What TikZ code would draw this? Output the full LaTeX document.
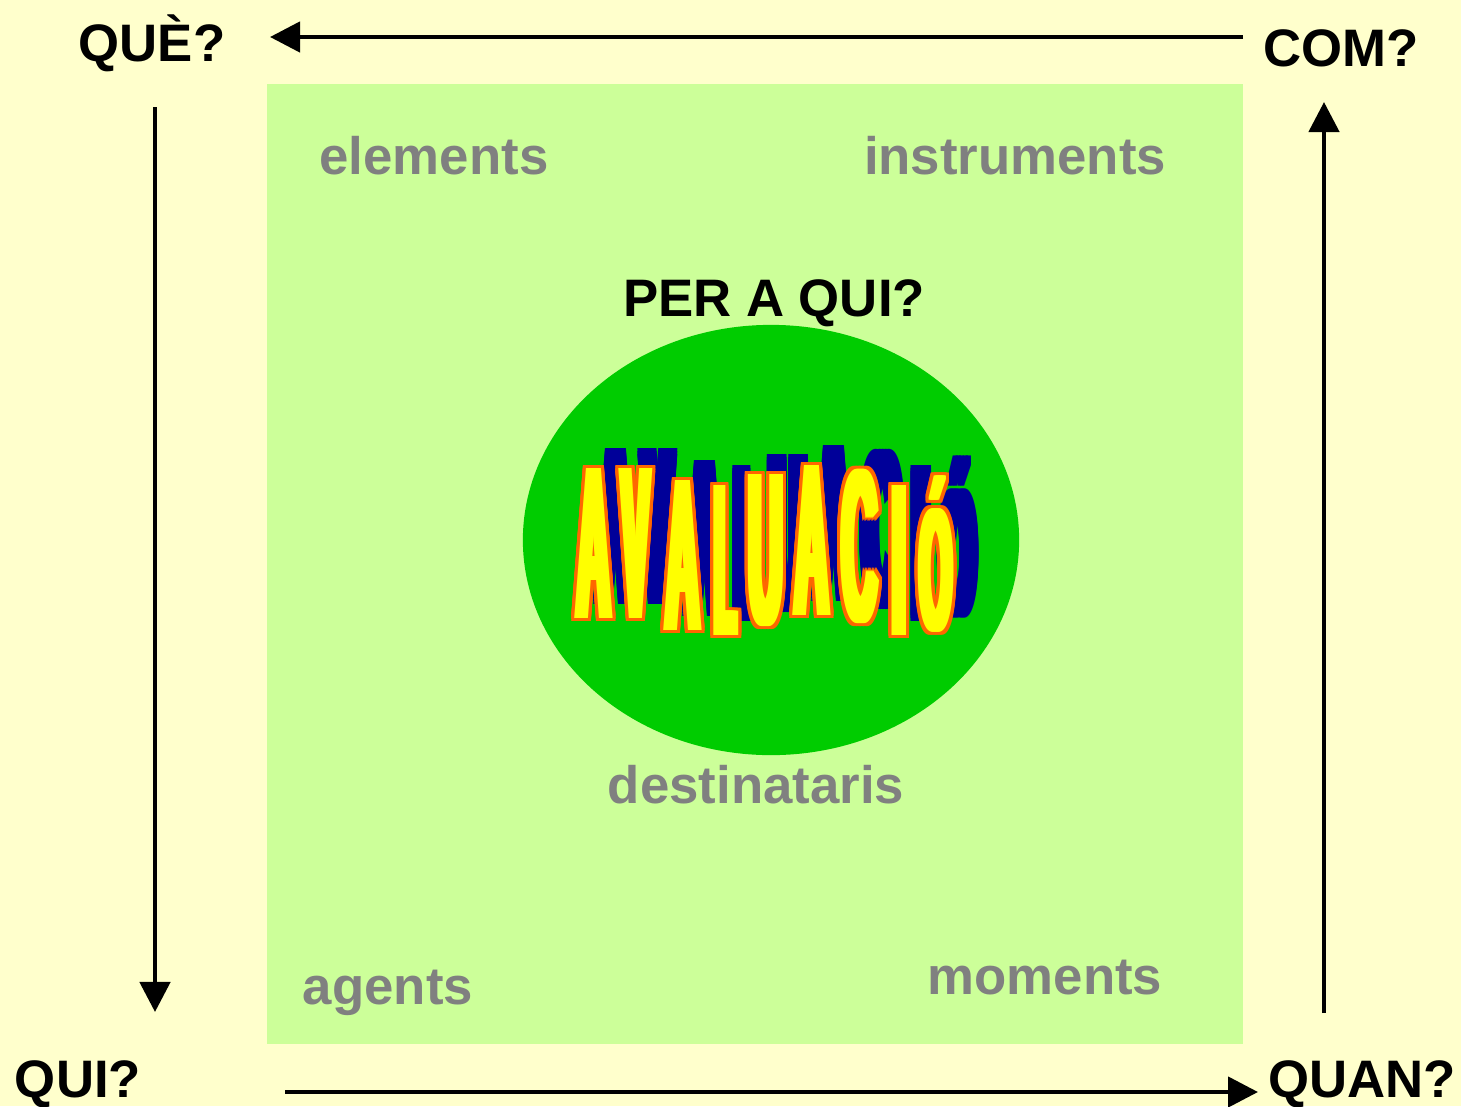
\documentclass[tikz,border=0pt]{standalone}
\usepackage{fontspec}
\setmainfont{Liberation Sans}
\usetikzlibrary{positioning,arrows.meta,shapes.geometric}
\definecolor{paper}{RGB}{255,255,204}
\definecolor{field}{RGB}{204,255,153}
\definecolor{blob}{RGB}{0,204,0}
\definecolor{labelgray}{RGB}{128,128,128}
\definecolor{artyellow}{RGB}{255,255,0}
\definecolor{artorange}{RGB}{255,102,0}
\definecolor{artblue}{RGB}{0,0,153}

% letters of the word art: x / baseline / xscale / yscale / letter
\def\artword{594/618/0.215/1/A, 636/618/0.19/1/V, 683/630/0.215/1/A,
  726/635/0.16/1/L, 766/624/0.215/1/U, 812/615/0.215/1/A,
  860/621/0.225/1/C, 899/635/0.24/1/I, 936/630/0.19/0.8/Ó}

\begin{document}
\begin{tikzpicture}[x=0.01cm,y=-0.01cm,
  q/.style={font=\fontsize{15}{15}\selectfont\bfseries,anchor=base,inner sep=0pt},
  g/.style={q,text=labelgray},
  arr/.style={-{Triangle[length=3mm,width=3mm]},line width=1.3pt},
  wa/.style={font=\fontsize{62}{62}\selectfont\bfseries,anchor=base,inner sep=0pt}]
  \fill[paper] (0,0) rectangle (1461,1106);
  \useasboundingbox (0,0) rectangle (1461,1106);
  \fill[field] (267,84) rectangle (1243,1044);
  \node[ellipse,fill=blob,minimum width=4.96cm,minimum height=4.30cm,inner sep=0pt] (oval) at (771,540) {};

  % word art: shadow, outline, fill
  \foreach \cx/\cy/\sx/\sy/\ch in \artword
    \foreach \dx in {-6.5,-3.25,0,3.25,6.5}
      \foreach \dy in {-3,0,3}
        \node[wa,text=artblue] at (\cx+22+\dx,\cy-17+\dy) {\scalebox{\sx}[\sy]{\ch}};
  \foreach \cx/\cy/\sx/\sy/\ch in \artword
    \foreach \dx in {-6.5,-5,-3.5,-2,-0.5,0.5,2,3.5,5,6.5}
      \foreach \dy in {-3,-1.5,0,1.5,3}
        \node[wa,text=artorange] at (\cx+\dx,\cy+\dy) {\scalebox{\sx}[\sy]{\ch}};
  \foreach \cx/\cy/\sx/\sy/\ch in \artword
    \foreach \dx in {-3.5,-2.5,-1.5,-0.5,0.5,1.5,2.5,3.5}
      \node[wa,text=artyellow] at (\cx+\dx,\cy) {\scalebox{\sx}[\sy]{\ch}};

  \node[q] (que)  at (152,61)   {QUÈ?};
  \node[q] (com)  at (1341,67)  {COM?};
  \node[q] (qui)  at (78,1097)  {QUI?};
  \node[q] (quan) at (1362,1097){QUAN?};
  \node[q] (peraqui) at (774,316) {PER A QUI?};

  \node[g] (elements)     at (434,174)  {elements};
  \node[g] (instruments)  at (1015,174) {instruments};
  \node[g] (destinataris) at (756,803)  {destinataris};
  \node[g] (agents)       at (388,1004) {agents};
  \node[g] (moments)      at (1045,994) {moments};

  \coordinate (com-out)  at (1243,37);
  \coordinate (que-in)   at (270,37);
  \coordinate (que-out)  at (155,107);
  \coordinate (qui-in)   at (155,1012);
  \coordinate (qui-out)  at (285,1092);
  \coordinate (quan-in)  at (1258,1092);
  \coordinate (quan-out) at (1324,1013);
  \coordinate (com-in)   at (1324,102);
  \draw[arr] (com-out) -- (que-in);
  \draw[arr] (que-out) -- (qui-in);
  \draw[arr] (qui-out) -- (quan-in);
  \draw[arr] (quan-out) -- (com-in);
\end{tikzpicture}
\end{document}
